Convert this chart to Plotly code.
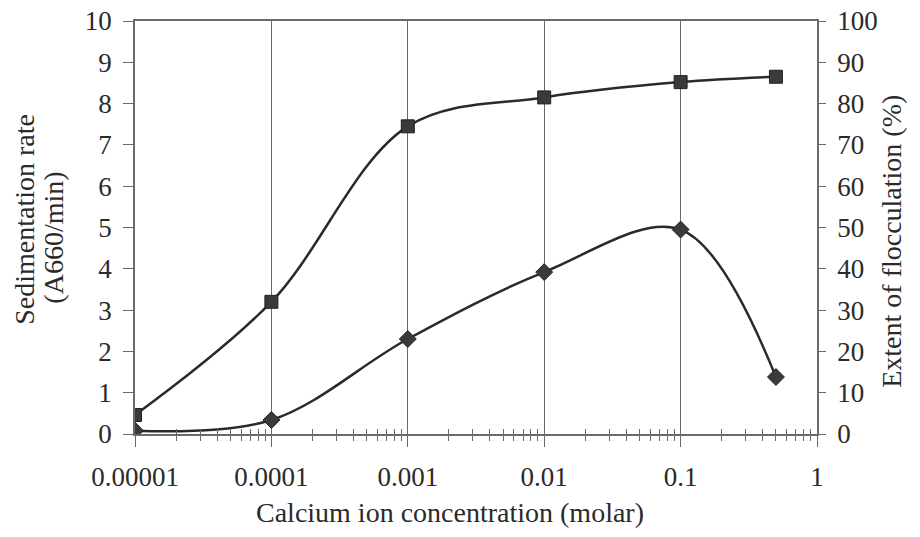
import plotly.graph_objects as go

# Calcium ion concentration (molar)
conc = [0.00001, 0.0001, 0.001, 0.01, 0.1, 0.5]
# Extent of flocculation (%), right axis
flocculation = [4.6, 32.0, 74.5, 81.5, 85.2, 86.5]
# Sedimentation rate (A660/min), left axis
sedimentation = [0.08, 0.34, 2.3, 3.92, 4.95, 1.38]

x_ticks = [0.00001, 0.0001, 0.001, 0.01, 0.1, 1]
x_tick_text = ["0.00001", "0.0001", "0.001", "0.01", "0.1", "1"]
left_ticks = list(range(0, 11))
right_ticks = list(range(0, 101, 10))

FONT = "Liberation Serif"
INK = "#2a2a2a"
AXIS = "#6a6a6a"
TICK_SIZE = 27
TITLE_SIZE = 28

fig = go.Figure()

fig.add_trace(go.Scatter(
    x=conc, y=flocculation, yaxis="y2", mode="lines+markers",
    line=dict(shape="spline", smoothing=1.0, color=INK, width=2.5),
    marker=dict(symbol="square", size=13, color="#3a3a3a",
                line=dict(color="#222", width=1)),
    name="Extent of flocculation", showlegend=False,
))
fig.add_trace(go.Scatter(
    x=conc, y=sedimentation, yaxis="y", mode="lines+markers",
    line=dict(shape="spline", smoothing=1.0, color=INK, width=2.5),
    marker=dict(symbol="diamond", size=13, color="#3a3a3a",
                line=dict(color="#222", width=1)),
    name="Sedimentation rate", showlegend=False,
))
# empty trace to carry the overlay axis used for the upper half of crossing ticks
fig.add_trace(go.Scatter(x=[], y=[], xaxis="x2", showlegend=False, hoverinfo="skip"))

title_font = dict(family=FONT, size=TITLE_SIZE, color=INK)

fig.update_layout(
    width=920, height=537,
    margin=dict(l=135, r=103, t=21, b=103, autoexpand=False),
    paper_bgcolor="white", plot_bgcolor="white",
    font=dict(family=FONT, size=TICK_SIZE, color=INK),
    xaxis=dict(
        type="log", range=[-5, 0],
        tickvals=x_ticks, ticktext=x_tick_text,
        showgrid=True, gridcolor=AXIS, gridwidth=1.2,
        showline=True, linecolor=AXIS, linewidth=1.5, mirror=True,
        ticks="outside", ticklen=11, tickwidth=1.3, tickcolor=AXIS,
        ticklabelstandoff=7,
        minor=dict(ticks="outside", ticklen=5, tickwidth=1, tickcolor=AXIS,
                   dtick="D1", showgrid=False),
        zeroline=False,
        tickfont=dict(size=TICK_SIZE),
    ),
    xaxis2=dict(
        type="log", range=[-5, 0], overlaying="x", anchor="y", side="bottom",
        tickvals=x_ticks, showticklabels=False, showgrid=False,
        showline=False, zeroline=False,
        ticks="inside", ticklen=4, tickwidth=1.3, tickcolor=AXIS,
        minor=dict(ticks="inside", ticklen=5, tickwidth=1, tickcolor=AXIS,
                   dtick="D1", showgrid=False),
    ),
    yaxis=dict(
        range=[0, 10], tickvals=left_ticks,
        showgrid=False, zeroline=False,
        showline=True, linecolor=AXIS, linewidth=1.5,
        ticks="outside", ticklen=10, tickwidth=1.2, tickcolor=AXIS,
        ticklabelstandoff=6,
        tickfont=dict(size=TICK_SIZE),
    ),
    yaxis2=dict(
        range=[0, 100], tickvals=right_ticks, overlaying="y", side="right",
        showgrid=False, zeroline=False,
        showline=True, linecolor=AXIS, linewidth=1.5,
        ticks="outside", ticklen=7, tickwidth=1.2, tickcolor=AXIS,
        ticklabelstandoff=6,
        tickfont=dict(size=TICK_SIZE),
    ),
    annotations=[
        dict(text="Calcium ion concentration (molar)", xref="paper", yref="paper",
             x=0.462, y=-0.19, xanchor="center", yanchor="middle",
             showarrow=False, font=title_font),
        dict(text="Sedimentation rate", xref="paper", yref="paper",
             x=-0.162, y=0.52, xanchor="center", yanchor="middle",
             textangle=-90, showarrow=False, font=title_font),
        dict(text="(A660/min)", xref="paper", yref="paper",
             x=-0.119, y=0.475, xanchor="center", yanchor="middle",
             textangle=-90, showarrow=False, font=title_font),
        dict(text="Extent of flocculation (%)", xref="paper", yref="paper",
             x=1.108, y=0.467, xanchor="center", yanchor="middle",
             textangle=-90, showarrow=False, font=title_font),
    ],
)

fig.write_html("out.html")
